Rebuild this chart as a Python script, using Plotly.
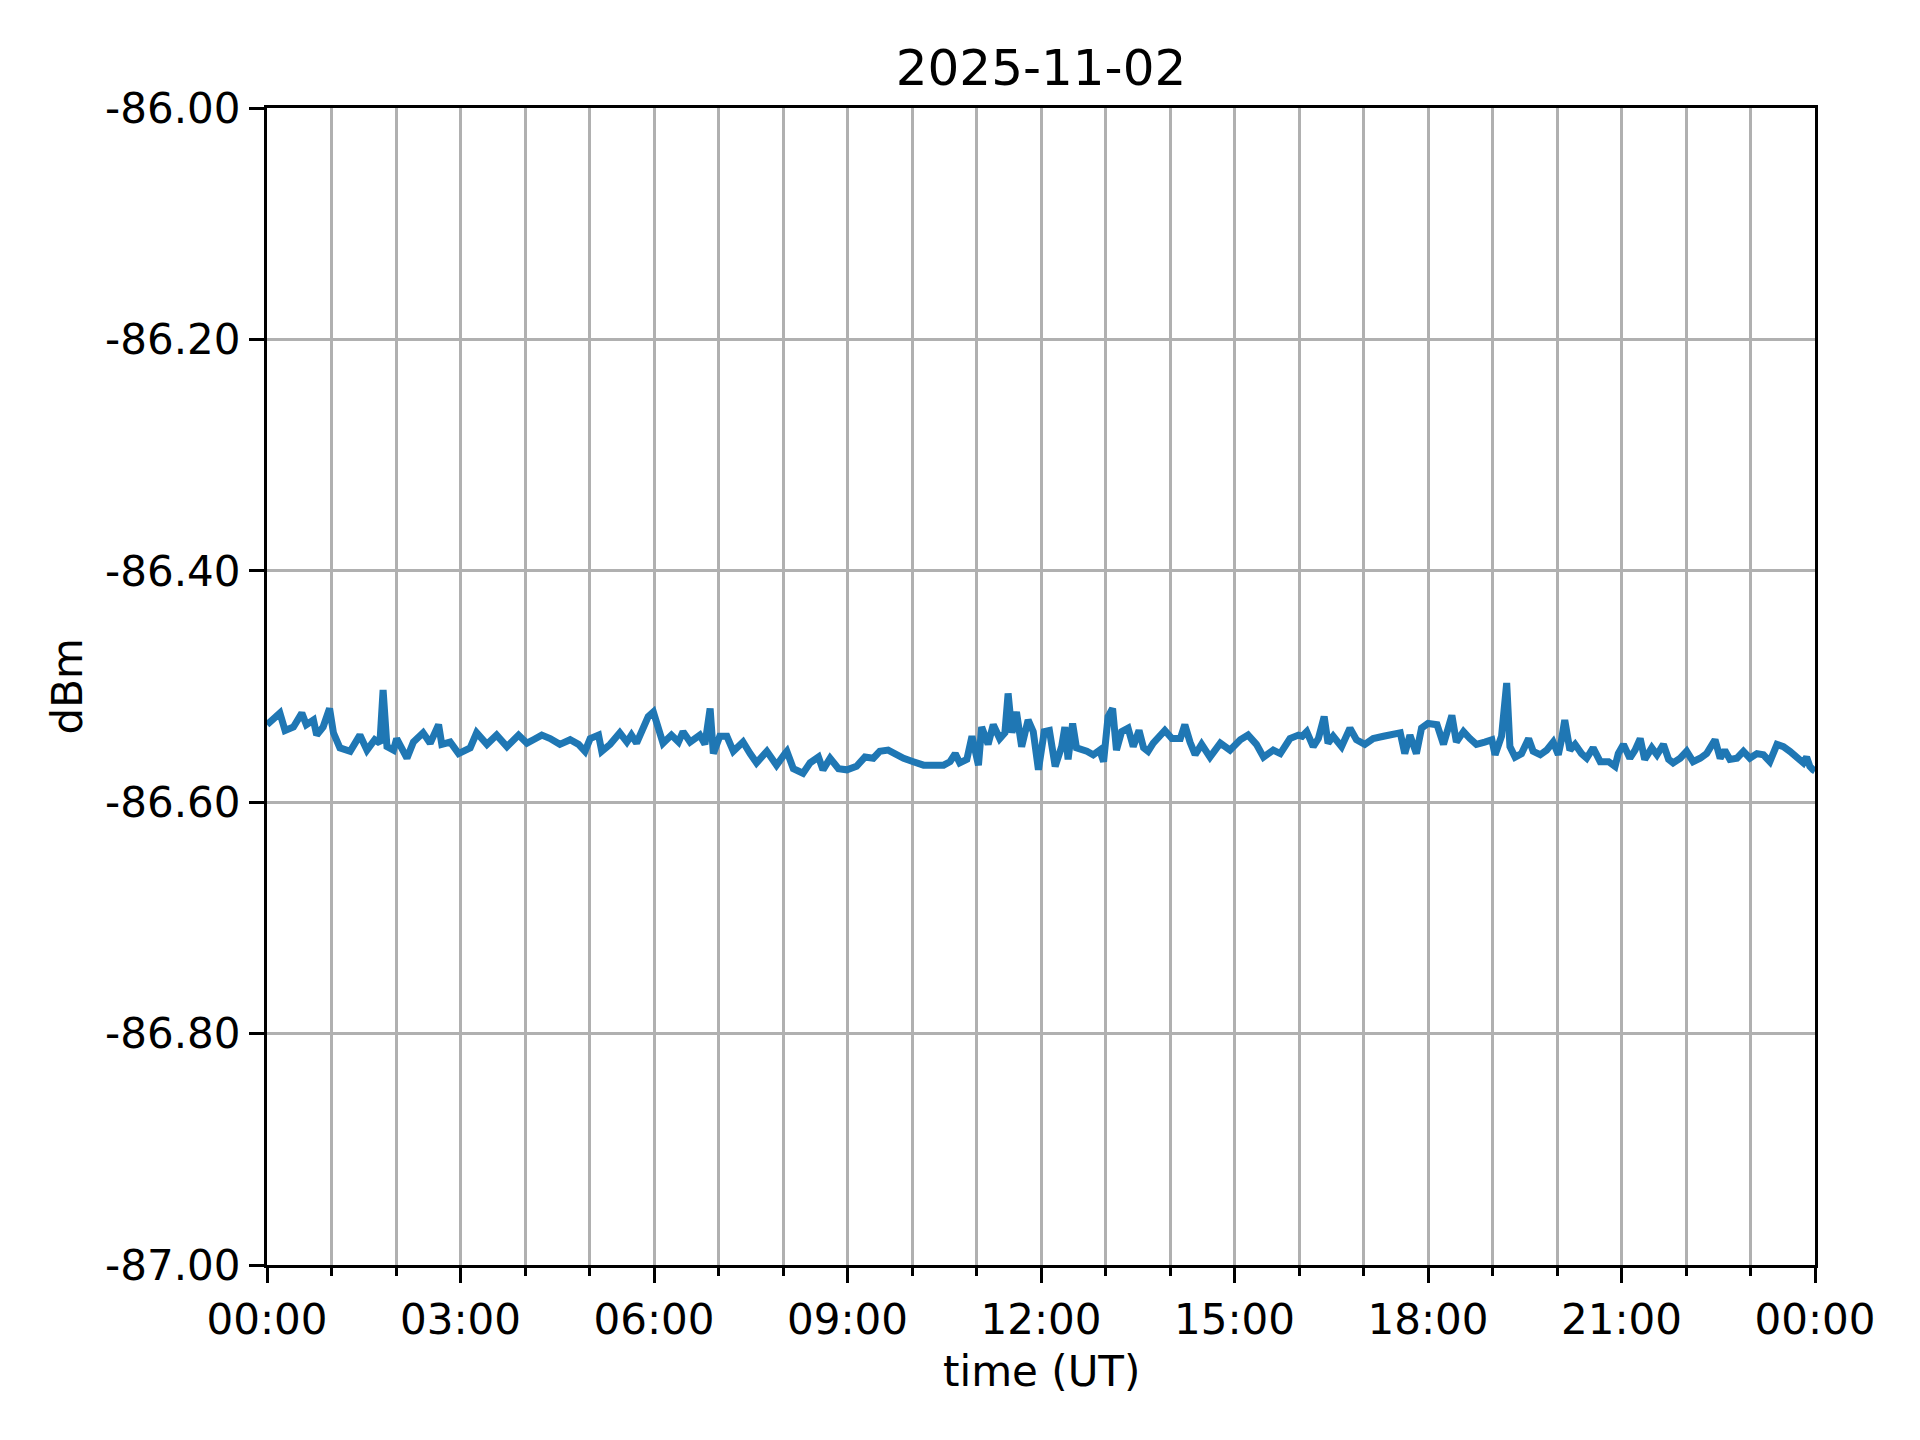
import pandas as pd
import plotly.graph_objects as go

# ---- data (hours since 2025-11-02 00:00 UT, signal level in dBm) ----
hours = [
    0.00, 0.02, 0.10, 0.20, 0.28, 0.41, 0.54, 0.61, 0.72, 0.77, 0.87, 0.97, 1.03, 1.13, 1.29, 1.44,
    1.55, 1.67, 1.75, 1.80, 1.86, 1.96, 2.01, 2.17, 2.27, 2.42, 2.53, 2.66, 2.71, 2.84, 2.97, 3.15,
    3.25, 3.41, 3.56, 3.72, 3.90, 4.03, 4.13, 4.26, 4.39, 4.54, 4.70, 4.83, 4.93, 5.01, 5.14, 5.19,
    5.32, 5.47, 5.58, 5.65, 5.73, 5.83, 5.91, 5.99, 6.07, 6.14, 6.27, 6.38, 6.45, 6.56, 6.71, 6.79,
    6.87, 6.92, 7.02, 7.13, 7.23, 7.38, 7.49, 7.59, 7.75, 7.90, 8.03, 8.06, 8.16, 8.31, 8.42, 8.55,
    8.62, 8.73, 8.86, 8.99, 9.14, 9.27, 9.40, 9.50, 9.63, 9.74, 9.87, 10.02, 10.18, 10.33, 10.49, 10.59,
    10.67, 10.74, 10.85, 10.93, 11.03, 11.08, 11.18, 11.26, 11.36, 11.44, 11.49, 11.55, 11.62, 11.70, 11.80, 11.88,
    11.96, 12.05, 12.13, 12.22, 12.32, 12.37, 12.42, 12.49, 12.55, 12.71, 12.81, 12.91, 12.97, 13.04, 13.11, 13.17,
    13.25, 13.35, 13.43, 13.52, 13.59, 13.66, 13.74, 13.92, 14.03, 14.16, 14.23, 14.31, 14.39, 14.49, 14.62, 14.78,
    14.93, 15.09, 15.21, 15.34, 15.45, 15.60, 15.71, 15.86, 15.99, 16.05, 16.12, 16.22, 16.30, 16.39, 16.45, 16.53,
    16.66, 16.79, 16.89, 17.02, 17.15, 17.31, 17.44, 17.57, 17.64, 17.72, 17.82, 17.90, 18.00, 18.14, 18.24, 18.37,
    18.44, 18.55, 18.65, 18.75, 18.88, 18.99, 19.04, 19.14, 19.22, 19.27, 19.35, 19.45, 19.56, 19.63, 19.74, 19.84,
    19.94, 20.02, 20.07, 20.12, 20.20, 20.28, 20.38, 20.46, 20.56, 20.67, 20.80, 20.90, 20.95, 21.03, 21.13, 21.21,
    21.29, 21.36, 21.47, 21.55, 21.65, 21.73, 21.80, 21.91, 22.01, 22.11, 22.22, 22.32, 22.45, 22.53, 22.60, 22.68,
    22.79, 22.89, 22.99, 23.10, 23.20, 23.30, 23.41, 23.51, 23.61, 23.72, 23.82, 23.87, 23.92, 23.97, 24.00,
]
dbm = [
    -86.533, -86.532, -86.527, -86.523, -86.538, -86.535, -86.523, -86.533, -86.529, -86.542, -86.535, -86.519, -86.540, -86.553, -86.556, -86.542,
    -86.555, -86.546, -86.549, -86.503, -86.552, -86.555, -86.545, -86.562, -86.548, -86.540, -86.549, -86.533, -86.550, -86.548, -86.558, -86.553,
    -86.540, -86.550, -86.542, -86.552, -86.542, -86.549, -86.546, -86.542, -86.545, -86.550, -86.546, -86.550, -86.556, -86.545, -86.542, -86.556,
    -86.550, -86.540, -86.548, -86.542, -86.549, -86.535, -86.526, -86.522, -86.536, -86.549, -86.542, -86.548, -86.539, -86.548, -86.542, -86.550,
    -86.519, -86.558, -86.543, -86.543, -86.556, -86.548, -86.558, -86.566, -86.556, -86.568, -86.558, -86.556, -86.571, -86.575, -86.566, -86.561,
    -86.572, -86.562, -86.571, -86.572, -86.569, -86.561, -86.562, -86.556, -86.555, -86.559, -86.562, -86.565, -86.568, -86.568, -86.568, -86.565,
    -86.558, -86.566, -86.563, -86.543, -86.568, -86.535, -86.550, -86.533, -86.545, -86.540, -86.506, -86.540, -86.522, -86.552, -86.529, -86.539,
    -86.572, -86.539, -86.538, -86.569, -86.552, -86.535, -86.563, -86.532, -86.553, -86.556, -86.559, -86.555, -86.565, -86.526, -86.519, -86.555,
    -86.539, -86.536, -86.552, -86.538, -86.553, -86.556, -86.549, -86.538, -86.545, -86.545, -86.533, -86.548, -86.559, -86.550, -86.561, -86.549,
    -86.555, -86.546, -86.542, -86.550, -86.561, -86.555, -86.558, -86.545, -86.542, -86.543, -86.539, -86.552, -86.545, -86.526, -86.549, -86.543,
    -86.552, -86.536, -86.546, -86.550, -86.545, -86.543, -86.542, -86.540, -86.558, -86.542, -86.558, -86.536, -86.532, -86.533, -86.550, -86.525,
    -86.548, -86.539, -86.545, -86.550, -86.548, -86.546, -86.559, -86.543, -86.497, -86.552, -86.561, -86.558, -86.545, -86.556, -86.559, -86.555,
    -86.548, -86.559, -86.546, -86.529, -86.555, -86.550, -86.558, -86.562, -86.553, -86.565, -86.565, -86.569, -86.558, -86.550, -86.562, -86.555,
    -86.545, -86.563, -86.553, -86.559, -86.550, -86.563, -86.566, -86.562, -86.556, -86.565, -86.562, -86.558, -86.546, -86.562, -86.555, -86.563,
    -86.562, -86.556, -86.562, -86.558, -86.559, -86.565, -86.550, -86.552, -86.556, -86.561, -86.566, -86.561, -86.569, -86.572, -86.573,
]

day = "2025-11-02"
title_text = "2025-11-02"
x_label = "time (UT)"
y_label = "dBm"
y_tickvals = [-87.0, -86.8, -86.6, -86.4, -86.2, -86.0]
y_ticktext = ["-87.00", "-86.80", "-86.60", "-86.40", "-86.20", "-86.00"]

# ---- figure ----
times = pd.Timestamp(day) + pd.to_timedelta(hours, unit="h")

FONT = "DejaVu Sans"
GRID = "#b0b0b0"
LW = 3.3

fig = go.Figure()
fig.add_trace(go.Scatter(
    x=times, y=dbm, mode="lines",
    line=dict(color="#1f77b4", width=7),
    showlegend=False, hoverinfo="skip",
))

fig.update_layout(
    width=1920, height=1440, autosize=False,
    margin=dict(l=259, r=113, t=100, b=183),
    paper_bgcolor="white", plot_bgcolor="white",
    font=dict(family=FONT, size=42, color="black"),
    title=dict(text=title_text, x=0.5, xref="paper", xanchor="center",
               y=1 - 59 / 1440, yref="container", yanchor="middle",
               font=dict(family=FONT, size=50, color="black")),
    showlegend=False,
)

fig.update_xaxes(
    type="date",
    range=[pd.Timestamp(day), pd.Timestamp(day) + pd.Timedelta(hours=24)],
    tick0=pd.Timestamp(day), dtick=3 * 3600000, tickformat="%H:%M",
    ticks="outside", ticklen=15, tickwidth=LW, tickcolor="black",
    showgrid=True, gridcolor=GRID, gridwidth=LW,
    showline=True, linecolor="black", linewidth=LW, mirror=True,
    zeroline=False,
    tickfont=dict(family=FONT, size=42, color="black"),
    minor=dict(dtick=3600000, tick0=pd.Timestamp(day), ticks="outside", ticklen=8,
               tickwidth=LW, tickcolor="black", showgrid=True,
               gridcolor=GRID, gridwidth=LW),
)
fig.update_yaxes(
    range=[-87.0, -86.0],
    tickmode="array", tickvals=y_tickvals, ticktext=y_ticktext,
    ticks="outside", ticklen=15, tickwidth=LW, tickcolor="black",
    showgrid=True, gridcolor=GRID, gridwidth=LW,
    showline=True, linecolor="black", linewidth=LW, mirror=True,
    zeroline=False,
    tickfont=dict(family=FONT, size=42, color="black"),
)

fig.add_annotation(text=x_label, xref="paper", yref="paper",
                   x=0.5, y=-(1371 - 1265) / 1157, xanchor="center", yanchor="middle",
                   showarrow=False, font=dict(family=FONT, size=42, color="black"))
fig.add_annotation(text=y_label, xref="paper", yref="paper",
                   x=(67 - 267) / 1548, y=0.5, xanchor="center", yanchor="middle",
                   textangle=-90, showarrow=False,
                   font=dict(family=FONT, size=42, color="black"))

fig.write_html("out.html")
